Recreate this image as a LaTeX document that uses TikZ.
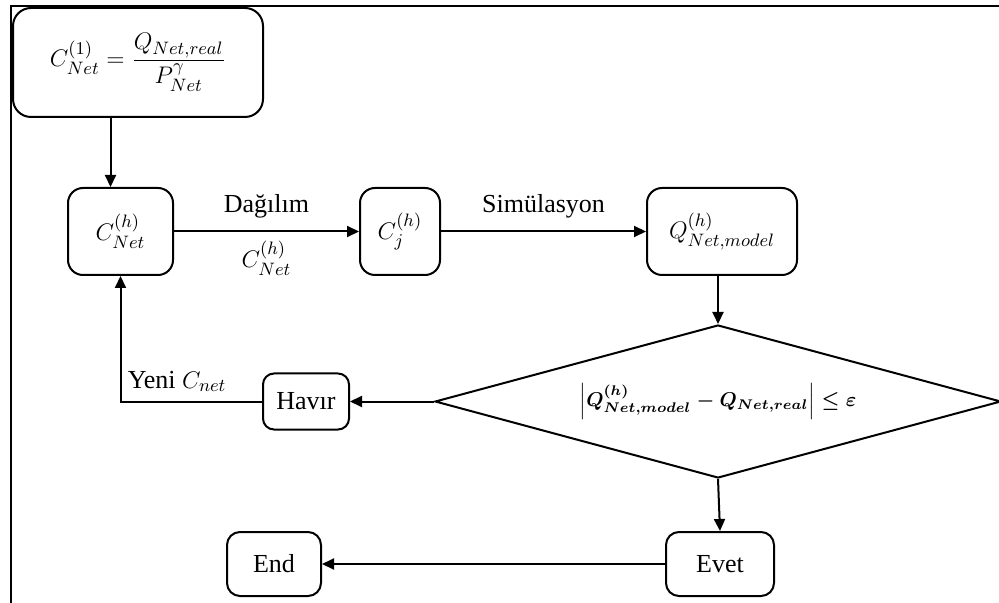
\documentclass[tikz,border=0pt]{standalone}
\usepackage{amsmath}
\usepackage{fontspec}
\setmainfont{Liberation Serif}
\usetikzlibrary{arrows.meta,shapes.geometric}

\newcommand{\checkexpr}{{\fontsize{10}{12}\selectfont\boldmath$\left\lvert Q_{Net,model}^{(h)}-Q_{Net,real}\right\rvert\leq\varepsilon$}}

\begin{document}
\begin{tikzpicture}[x=0.5pt, y=-0.5pt, line width=1pt,
    font=\fontsize{13}{15}\selectfont,
    box/.style={draw, rounded corners=7.5pt, inner sep=2pt, minimum height=43.5pt},
    smallbox/.style={draw, rounded corners=5.5pt, inner sep=2pt},
    decision/.style={draw, diamond, aspect=3.7, inner sep=0pt, minimum width=283pt, minimum height=76.5pt},
    arr/.style={-{Triangle[length=6pt,width=5.5pt]}}]
  \useasboundingbox (0,0) rectangle (999,603);

  % outer frame (only left and top edges show)
  \draw (11,603) -- (11,6) -- (999,6);

  \node[box, rounded corners=9pt, minimum width=125pt, minimum height=54.5pt] (start) at (138,62.5)
    {$C_{Net}^{(1)}=\dfrac{Q_{Net,real}}{P_{Net}^{\gamma}}$};
  \node[box, minimum width=52.5pt] (cnet) at (120.5,231.5) {$C_{Net}^{(h)}$};
  \node[box, minimum width=40pt] (cj) at (400,231.5) {$C_{j}^{(h)}$};
  \node[box, minimum width=75pt] (qmod) at (722,231.5) {$Q_{Net,model}^{(h)}$};

  \node[decision] (check) at (718,401.5) {\checkexpr};

  \node[smallbox, minimum width=43pt, minimum height=28pt] (hayir) at (306,401.5) {Havır};
  \node[smallbox, rounded corners=6.5pt, minimum width=54pt, minimum height=32pt] (evet) at (720,564) {Evet};
  \node[smallbox, rounded corners=6.5pt, minimum width=47pt, minimum height=32pt] (end) at (274,564) {End};

  \draw[arr] ([xshift=-5pt]cnet.north |- start.south) -- ([xshift=-5pt]cnet.north);
  \draw[arr] (cnet) -- node[above=3pt] {Dağılım} node[below=1pt] {$C_{Net}^{(h)}$} (cj);
  \draw[arr] (cj) -- node[above=3pt] {Simülasyon} (qmod);
  \draw[arr] (qmod.south -| check.north) -- (check.north);
  \draw[arr] (check.west) -- (hayir.east);
  \draw[arr] (hayir.west) -| node[pos=0.3, above=1pt] {Yeni $C_{net}$} (cnet.south);
  \draw[arr] (check.south) -- (evet.north);
  \draw[arr] (evet) -- (end);
\end{tikzpicture}
\end{document}
